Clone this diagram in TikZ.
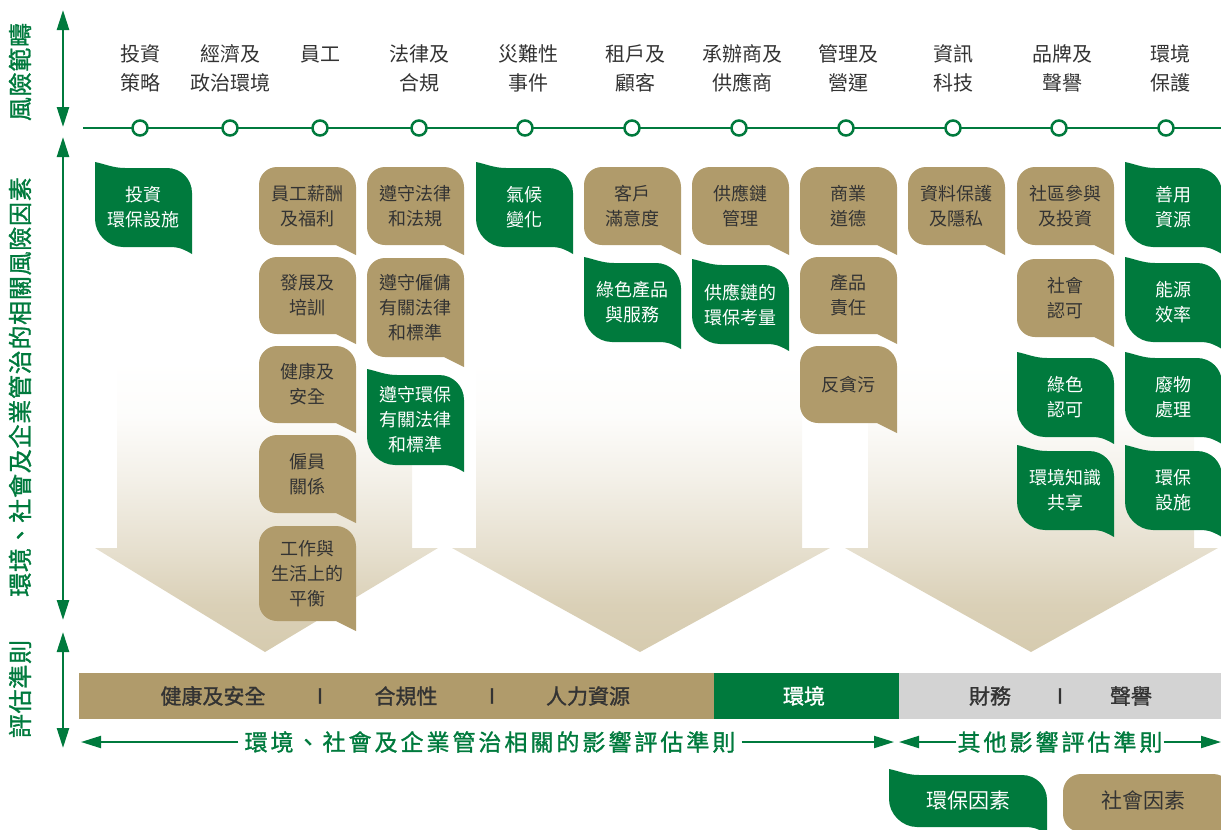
\documentclass[tikz,border=0pt]{standalone}
\usepackage{fontspec}
\setmainfont{Noto Sans CJK TC}
\newfontfamily\medfont[FakeBold=1.2]{Noto Sans CJK TC}
\newfontfamily\medspaced[FakeBold=1.2,LetterSpace=13]{Noto Sans CJK TC}
\newfontfamily\medside[FakeBold=1.2,LetterSpace=3]{Noto Sans CJK TC}
\usetikzlibrary{arrows.meta}
\definecolor{esgreen}{HTML}{007A3D}
\definecolor{tanc}{HTML}{B09B6B}
\definecolor{arrowtan}{HTML}{D6CBAF}
\definecolor{bargray}{HTML}{D3D3D3}
\definecolor{txtdark}{HTML}{333333}
\pgfdeclareverticalshading{arrowshade}{100bp}{color(0bp)=(arrowtan); color(25bp)=(arrowtan); color(30bp)=(arrowtan!90); color(36bp)=(arrowtan!60); color(43bp)=(arrowtan!30); color(50bp)=(arrowtan!5); color(56bp)=(white); color(100bp)=(white)}
\tikzset{
  pics/leafbox/.style 2 args={code={
    \fill[esgreen] (0,-6) .. controls (10,-4) and (18,0) .. (30,0) -- ({#1-25},0)
      .. controls ({#1-11},0) and (#1,11) .. (#1,25) -- (#1,{#2+7})
      .. controls ({#1-7},{#2+3}) and ({#1-12},#2) .. ({#1-22},#2) -- (28,#2)
      .. controls (13,#2) and (0,{#2-13}) .. (0,{#2-28}) -- cycle;
  }},
  pics/bubblebox/.style 2 args={code={
    \fill[tanc] (0,18) .. controls (0,8) and (8,0) .. (18,0) -- ({#1-20},0)
      .. controls ({#1-9},0) and (#1,9) .. (#1,20) -- (#1,{#2+10}) -- ({#1-20},#2)
      -- (18,#2) .. controls (8,#2) and (0,{#2-8}) .. (0,{#2-18}) -- cycle;
  }},
  gtxt/.style={text=white, font=\fontsize{18}{25}\selectfont, align=center, inner sep=0pt},
  ttxt/.style={text=txtdark, font=\fontsize{18}{25}\selectfont, align=center, inner sep=0pt},
  toplbl/.style={text=txtdark, font=\fontsize{20}{29}\selectfont, align=center, inner sep=0pt},
  sidelbl/.style={text=esgreen, rotate=90, inner sep=0pt, font=\medside\fontsize{24}{28}\selectfont},
  barlbl/.style={text=txtdark, inner sep=0pt, font=\medfont\fontsize{21}{25}\selectfont},
  crit/.style={text=esgreen, inner ysep=0pt, font=\medspaced\fontsize{23}{27}\selectfont},
  dot/.style={circle, draw=esgreen, fill=white, line width=2.5pt, minimum size=15pt, inner sep=0pt},
  gline/.style={draw=esgreen, line width=2.5pt},
  tip/.style={-{Triangle[length=20pt,width=12pt]}},
  bitip/.style={{Triangle[length=20pt,width=12pt]}-{Triangle[length=20pt,width=12pt]}},
  barseg/.style={anchor=north west, minimum height=46pt, inner sep=0pt, draw=none},
  bigarrow/.style={shading=arrowshade},
}
\newcommand\leafnode[6]{\pic at (#2,#3) {leafbox={#4}{#5}};
  \node[gtxt] (#1) at ({#2+#4/2},{#3+#5/2}) {#6};}
\newcommand\bubblenode[6]{\pic at (#2,#3) {bubblebox={#4}{#5}};
  \node[ttxt] (#1) at ({#2+#4/2},{#3+#5/2}) {#6};}
\begin{document}
\begin{tikzpicture}[x=1pt,y=-1pt]
\useasboundingbox (0,0) rectangle (1221,830);

% big shaded arrows
\shade[bigarrow]
  (117,180) -- (412,180) -- (412,548) -- (438,548) -- (265,652) -- (95,548) -- (117,548) -- cycle;
\shade[bigarrow]
  (476,180) -- (802,180) -- (802,548) -- (830,548) -- (640,652) -- (452,548) -- (476,548) -- cycle;
\shade[bigarrow]
  (868,180) -- (1194,180) -- (1194,548) -- (1218,548) -- (1031,652) -- (845,548) -- (868,548) -- cycle;

% left axis
\coordinate (a1t) at (63,10);  \coordinate (a1b) at (63,127);
\coordinate (a2t) at (63,137); \coordinate (a2b) at (63,620);
\coordinate (a3t) at (63,632); \coordinate (a3b) at (63,748);
\draw[gline, bitip] (a1t) -- (a1b);
\draw[gline, bitip] (a2t) -- (a2b);
\draw[gline, bitip] (a3t) -- (a3b);
\node[sidelbl] (s1) at (20,72) {風險範疇};
\node[sidelbl] (s2) at (20,387) {環境、社會及企業管治的相關風險因素};
\node[sidelbl] (s3) at (20,689) {評估準則};

% timeline
\coordinate (tlL) at (83,128); \coordinate (tlR) at (1221,128);
\draw[gline] (tlL) -- (tlR);
\foreach \i/\x in {1/140,2/230,3/320,4/419,5/525,6/632,7/739,8/846,9/953,10/1059,11/1166}
  \node[dot] (c\i) at (\x,128) {};

% top labels
\node[toplbl] (r1) at (140,68) {投資\\策略};
\node[toplbl] (r2) at (230,68) {經濟及\\政治環境};
\node[toplbl] (r3) at (320,54) {員工};
\node[toplbl] (r4) at (419,68) {法律及\\合規};
\node[toplbl] (r5) at (528,68) {災難性\\事件};
\node[toplbl] (r6) at (635,68) {租戶及\\顧客};
\node[toplbl] (r7) at (742,68) {承辦商及\\供應商};
\node[toplbl] (r8) at (848,68) {管理及\\營運};
\node[toplbl] (r9) at (953,68) {資訊\\科技};
\node[toplbl] (r10) at (1062,68) {品牌及\\聲譽};
\node[toplbl] (r11) at (1170,68) {環境\\保護};

% boxes
\leafnode{b1}{95}{168}{97}{79}{投資\\環保設施}
\bubblenode{b2}{259}{167}{97}{78}{員工薪酬\\及福利}
\bubblenode{b3}{259}{257}{97}{77}{發展及\\培訓}
\bubblenode{b4}{259}{346}{97}{77}{健康及\\安全}
\bubblenode{b5}{259}{435}{97}{78}{僱員\\關係}
\bubblenode{b6}{259}{526}{97}{95}{工作與\\生活上的\\平衡}
\bubblenode{b7}{367}{167}{97}{78}{遵守法律\\和法規}
\bubblenode{b8}{367}{258}{97}{99}{遵守僱傭\\有關法律\\和標準}
\leafnode{b9}{367}{375}{97}{90}{遵守環保\\有關法律\\和標準}
\leafnode{b10}{476}{168}{97}{79}{氣候\\變化}
\bubblenode{b11}{584}{167}{97}{78}{客戶\\滿意度}
\leafnode{b12}{584}{263}{97}{79}{綠色產品\\與服務}
\bubblenode{b13}{692}{167}{97}{78}{供應鏈\\管理}
\leafnode{b14}{692}{265}{97}{79}{供應鏈的\\環保考量}
\bubblenode{b15}{800}{167}{97}{78}{商業\\道德}
\bubblenode{b16}{800}{257}{97}{77}{產品\\責任}
\bubblenode{b17}{800}{346}{97}{77}{反貪污}
\bubblenode{b18}{908}{167}{97}{78}{資料保護\\及隱私}
\bubblenode{b19}{1017}{167}{97}{78}{社區參與\\及投資}
\bubblenode{b20}{1017}{259}{97}{78}{社會\\認可}
\leafnode{b21}{1017}{358}{97}{79}{綠色\\認可}
\leafnode{b22}{1017}{451}{97}{79}{環境知識\\共享}
\leafnode{b23}{1125}{168}{97}{79}{善用\\資源}
\leafnode{b24}{1125}{263}{97}{79}{能源\\效率}
\leafnode{b25}{1125}{358}{97}{79}{廢物\\處理}
\leafnode{b26}{1125}{451}{97}{79}{環保\\設施}

% bottom bar
\node[barseg, fill=tanc, minimum width=635pt] (barT) at (79,673) {};
\node[barseg, fill=esgreen, minimum width=185pt] (barG) at (714,673) {};
\node[barseg, fill=bargray, minimum width=322pt] (barY) at (899,673) {};
\node[barlbl] (k1) at (213,696) {健康及安全};
\node[barlbl] (k2) at (320,696) {I};
\node[barlbl] (k3) at (406,696) {合規性};
\node[barlbl] (k4) at (492,696) {I};
\node[barlbl] (k5) at (588,696) {人力資源};
\node[barlbl, text=white] (k6) at (804,696) {環境};
\node[barlbl] (k7) at (990,696) {財務};
\node[barlbl] (k8) at (1060,696) {I};
\node[barlbl] (k9) at (1131,696) {聲譽};

% bottom criteria arrows
\node[crit, inner xsep=6pt] (esgcrit) at (490,742) {環境、社會及企業管治相關的影響評估準則};
\coordinate (esgL) at (81,742); \coordinate (esgR) at (894,742);
\draw[gline, line width=2pt, tip] (esgcrit.west) -- (esgL);
\draw[gline, line width=2pt, tip] (esgcrit.east) -- (esgR);
\node[crit, inner xsep=1pt] (othcrit) at (1060,742) {其他影響評估準則};
\coordinate (othL) at (899,742); \coordinate (othR) at (1221,742);
\draw[gline, line width=2pt, tip] (othcrit.west) -- (othL);
\draw[gline, line width=2pt, tip] (othcrit.east) -- (othR);

% legend
\pic at (889,775) {leafbox={158}{52}};
\node[gtxt, font=\fontsize{21}{25}\selectfont] (lg1) at (968,800) {環保因素};
\pic at (1063,774) {bubblebox={170}{58}};
\node[ttxt, font=\fontsize{21}{25}\selectfont] (lg2) at (1143,800) {社會因素};
\end{tikzpicture}
\end{document}
